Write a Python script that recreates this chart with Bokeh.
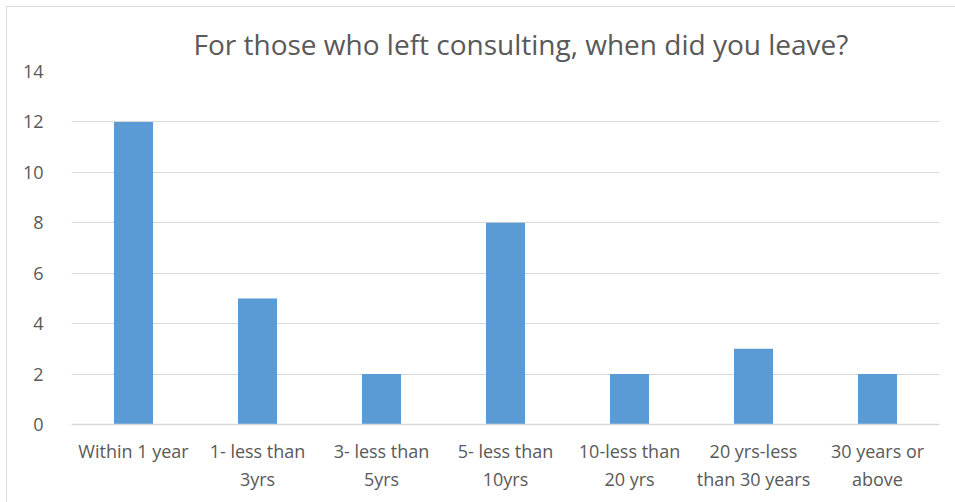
from bokeh.plotting import figure
from bokeh.models import Range1d, SingleIntervalTicker, ColumnDataSource
from bokeh.embed import file_html
from bokeh.resources import INLINE

categories = ["Within 1 year", "1- less than\n3yrs", "3- less than\n5yrs", "5- less than\n10yrs",
              "10-less than\n20 yrs", "20 yrs-less\nthan 30 years", "30 years or\nabove"]
counts = [12, 5, 2, 8, 2, 3, 2]
title_text = "For those who left consulting, when did you leave?"

src = ColumnDataSource(dict(cat=categories, val=counts))

p = figure(width=949, height=496, x_range=categories, output_backend="svg",
           toolbar_location=None, title=title_text,
           min_border_left=64, min_border_right=17, min_border_bottom=79, min_border_top=64)
p.margin = (6, 0, 0, 6)
p.styles = {"border-left": "1px solid #D9D9D9", "border-top": "1px solid #D9D9D9",
            "box-sizing": "border-box"}
p.y_range = Range1d(0, 14)
p.vbar(x="cat", top="val", width=0.315, source=src, color="#5B9BD5", line_color=None)

p.title.align = "left"
p.title.offset = 122
p.title.text_font = "Open Sans"
p.title.text_font_size = "28px"
p.title.text_font_style = "normal"
p.title.text_color = "#595959"
p.title.standoff = 18

p.outline_line_color = None
p.background_fill_color = "white"
p.border_fill_color = "white"

p.yaxis.ticker = SingleIntervalTicker(interval=2)
p.yaxis.axis_line_color = None
p.yaxis.major_tick_line_color = None
p.yaxis.minor_tick_line_color = None
p.yaxis.major_label_text_font = "Open Sans"
p.yaxis.major_label_text_font_size = "18px"
p.yaxis.major_label_text_color = "#595959"
p.yaxis.major_label_standoff = 22

p.xaxis.axis_line_color = "#D9D9D9"
p.xaxis.axis_line_width = 1.5
p.xaxis.major_tick_line_color = None
p.xaxis.minor_tick_line_color = None
p.xaxis.major_label_text_font = "Open Sans"
p.xaxis.major_label_text_font_size = "18px"
p.xaxis.major_label_text_color = "#595959"
p.xaxis.major_label_standoff = 8

p.xgrid.grid_line_color = None
p.ygrid.grid_line_color = "#D9D9D9"
p.ygrid.grid_line_width = 1.2

open("out.html", "w").write(file_html(p, INLINE))
